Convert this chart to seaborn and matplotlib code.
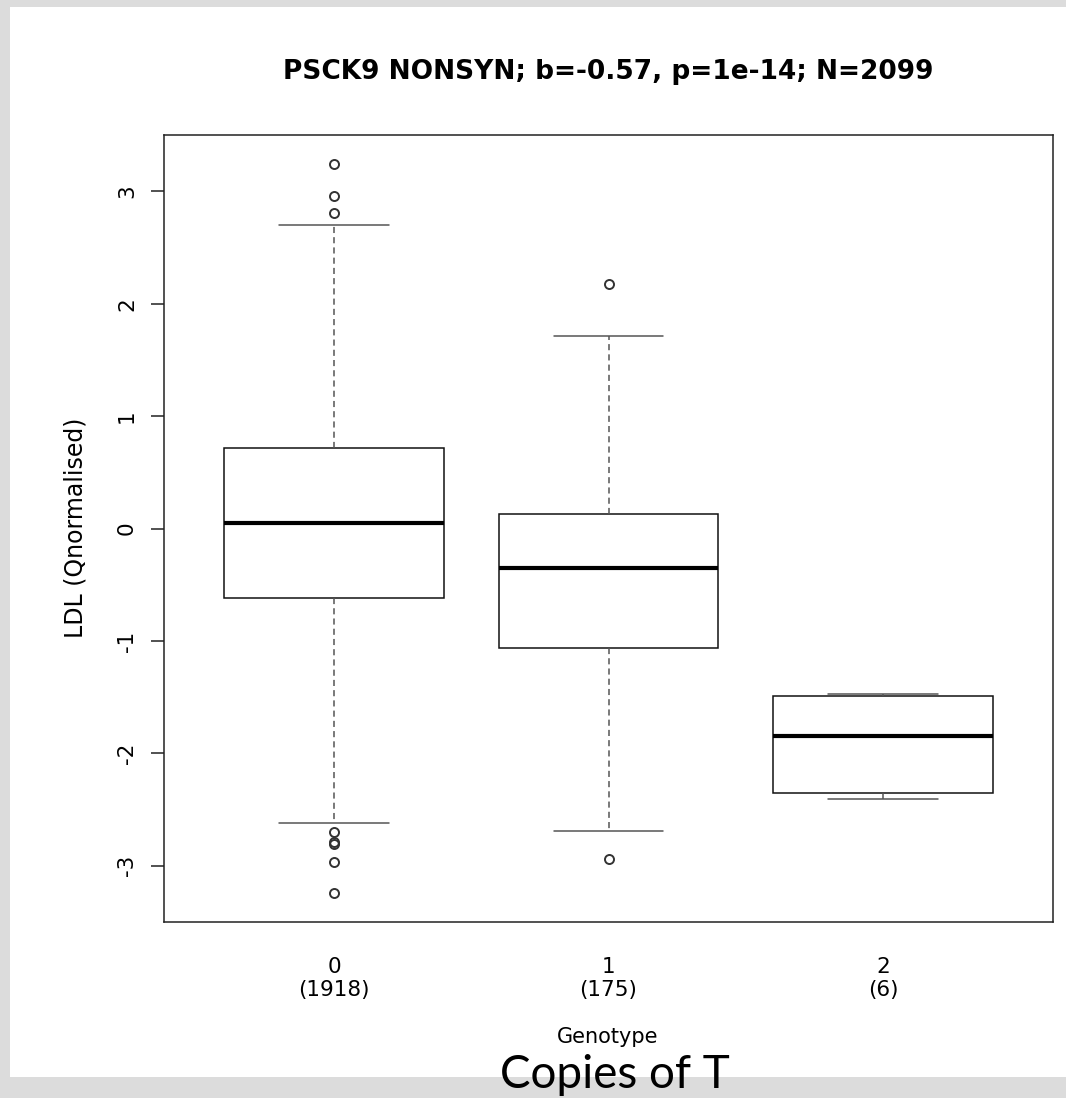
import pandas as pd
import matplotlib
matplotlib.use('Agg')
import matplotlib.pyplot as plt
from matplotlib.patches import Rectangle
import seaborn as sns

# --- Datos ---
genotypes = ['0', '1', '2']
counts = [1918, 175, 6]

# LDL por genotipo: atípicos, bigotes, cuartiles y mediana
ldl_g0 = [-3.245, -2.965, -2.81, -2.79, -2.70, -2.62,
          -0.62, -0.50, -0.38, -0.25, -0.12, -0.03,
          0.045, 0.15, 0.27, 0.40, 0.52, 0.63,
          0.72, 1.10, 1.85, 2.70, 2.81, 2.955, 3.24]
ldl_g1 = [-2.94, -2.69, -1.065, -0.70, -0.35, -0.10, 0.127, 1.716, 2.178]
ldl_g2 = [-2.405, -2.40, -2.20, -1.50, -1.487, -1.47]

y_ticks = [-3, -2, -1, 0, 1, 2, 3]
titulo = 'PSCK9 NONSYN; b=-0.57, p=1e-14; N=2099'

W, H = 1066, 1098

df = pd.DataFrame({
    'genotype': ['0'] * len(ldl_g0) + ['1'] * len(ldl_g1) + ['2'] * len(ldl_g2),
    'ldl': ldl_g0 + ldl_g1 + ldl_g2,
})

sns.set_theme(style='white', rc={
    'axes.edgecolor': '#222', 'axes.linewidth': 1.1,
    'text.color': 'black', 'xtick.color': 'black', 'ytick.color': 'black',
    'axes.unicode_minus': False,
})

fig = plt.figure(figsize=(W / 100, H / 100), dpi=100)
fig.patch.set_facecolor('#dcdcdc')
# panel blanco
fig.add_artist(Rectangle((10 / W, 21 / H), 1 - 10 / W, 1070 / H,
                         transform=fig.transFigure, facecolor='white',
                         edgecolor='none', zorder=-1))

ax = fig.add_axes([164 / W, (H - 922) / H, (1053 - 164) / W, (922 - 135) / H])

sns.boxplot(data=df, x='genotype', y='ldl', order=genotypes, ax=ax,
            color='white', linecolor='#111', saturation=1, width=0.8,
            linewidth=1.1, whis=1.5,
            medianprops=dict(color='black', linewidth=3),
            whiskerprops=dict(color='#555', linestyle=(0, (4, 2.7))),
            capprops=dict(color='#555'),
            flierprops=dict(marker='o', markersize=6.5, markerfacecolor='none',
                            markeredgecolor='#333', markeredgewidth=1.4))

ax.set_xlim(-0.62, 2.62)
ax.set_ylim(-3.5, 3.5)
ax.set_xlabel('')
ax.set_ylabel('')

ax.set_xticks(range(len(genotypes)))
ax.set_xticklabels([f'{g}\n({n})' for g, n in zip(genotypes, counts)])
ax.tick_params(axis='x', length=0, pad=25, labelsize=15.5)

ax.set_yticks(y_ticks)
ax.set_yticklabels([str(t) for t in y_ticks], rotation=90, va='center')
ax.tick_params(axis='y', left=True, direction='out', length=9.5, width=1.1,
               color='#222', pad=10, labelsize=15.5)

for s in ax.spines.values():
    s.set_visible(True)

fig.text(608 / W, 1 - 72 / H, titulo, ha='center', va='center',
         fontsize=19, fontweight='bold')
fig.text(75 / W, 1 - 528 / H, 'LDL (Qnormalised)', rotation=90,
         ha='center', va='center', fontsize=17)
fig.text(608 / W, 1 - 1037 / H, 'Genotype', ha='center', va='center',
         fontsize=15)
fig.text(615 / W, 1 - 1088 / H, 'Copies of T', ha='center', va='baseline',
         fontsize=33, family='Lato')

fig.savefig('out.png', dpi=100, facecolor=fig.get_facecolor())
